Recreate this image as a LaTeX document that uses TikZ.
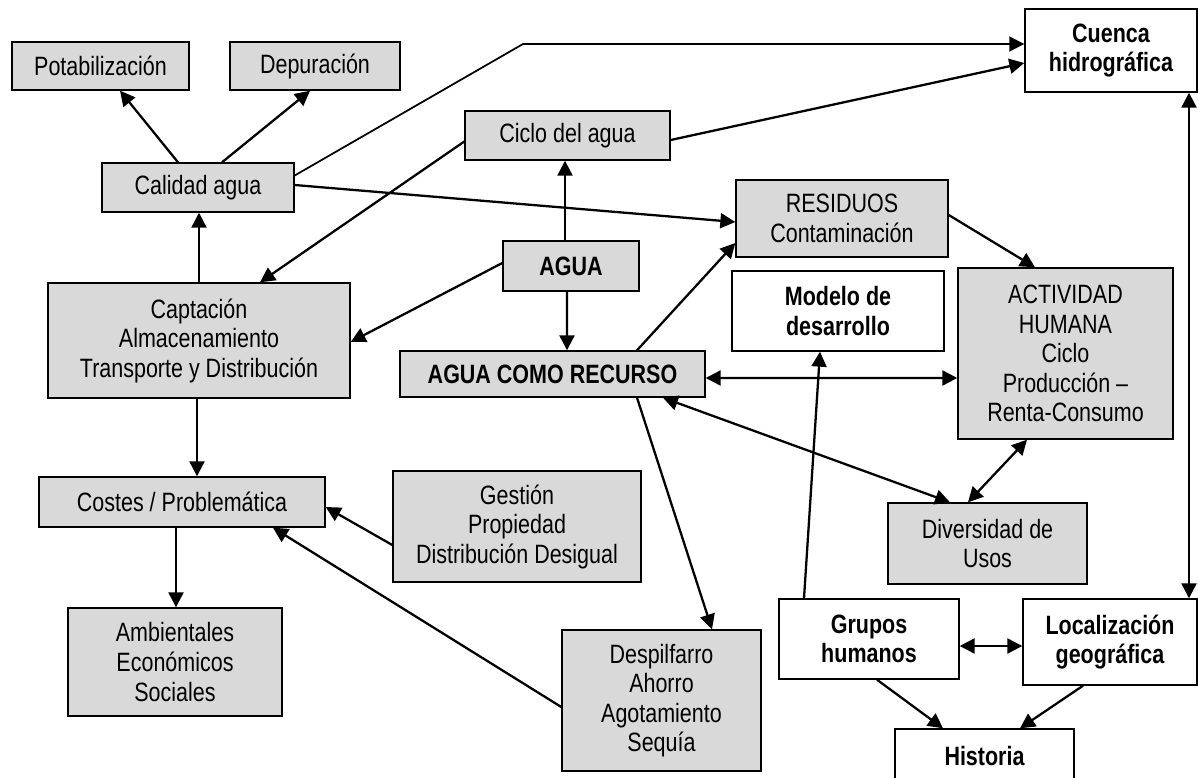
\documentclass[tikz,border=0pt]{standalone}
\usepackage{fontspec}
\setmainfont{Liberation Sans}[FakeStretch=0.81]
\usetikzlibrary{arrows.meta,calc}
\definecolor{boxgray}{RGB}{217,217,217}

\begin{document}
\begin{tikzpicture}[x=0.02cm,y=-0.02cm,
    box/.style={draw,fill=boxgray,line width=0.8pt,align=center,inner sep=0pt,
      font=\fontsize{15.1}{16.8}\selectfont},
    wbox/.style={box,fill=white},
    bf/.style={font=\fontsize{15.1}{16.8}\selectfont\bfseries},
    sz/.style 2 args={minimum width=#1*0.02cm,minimum height=#2*0.02cm},
    link/.style={line width=1.3pt,-{Triangle[length=8.5pt,width=8.5pt]}},
    dlink/.style={line width=1.3pt,{Triangle[length=8.5pt,width=8.5pt]}-{Triangle[length=8.5pt,width=8.5pt]}}]
    \useasboundingbox (0,0) rectangle (1198,778);
    \clip (0,0) rectangle (1198,778);

    % left column
    \node[box,sz={177}{48}] (pot) at (100.5,66) {Potabilización};
    \node[box,sz={170}{48}] (dep) at (315,66) {Depuración};
    \node[box,sz={192}{49}] (cal) at (198,187.5) {Calidad agua};
    \node[box,sz={302}{115}] (cap) at (199,340.5) {Captación\\Almacenamiento\\Transporte y Distribución};
    \node[box,sz={286}{50}] (cos) at (182,502) {Costes / Problemática};
    \node[box,sz={214}{108}] (amb) at (175,662) {Ambientales\\Económicos\\Sociales};

    % middle
    \node[box,sz={205}{49}] (cic) at (567.5,135.5) {Ciclo del agua};
    \node[box,bf,sz={136}{50}] (agua) at (571,266) {AGUA};
    \node[box,bf,sz={305}{46}] (rec) at (552.5,374) {AGUA COMO RECURSO};
    \node[box,sz={248}{111}] (ges) at (517,526.5) {Gestión\\Propiedad\\Distribución Desigual};
    \node[box,sz={199}{141}] (des) at (661.5,700.5) {Despilfarro\\Ahorro\\Agotamiento\\Sequía};

    % right
    \node[wbox,bf,sz={172}{83}] (cue) at (1111,50.5) {Cuenca\\hidrográfica};
    \node[box,sz={212}{77}] (res) at (842,218.5) {RESIDUOS\\Contaminación};
    \node[wbox,bf,sz={212}{80}] (mod) at (838,311) {Modelo de\\desarrollo};
    \node[box,sz={215}{171}] (act) at (1065.5,353.5) {ACTIVIDAD\\HUMANA\\Ciclo\\Producción –\\Renta-Consumo};
    \node[box,sz={199}{81}] (div) at (987.5,543.5) {Diversidad de\\Usos};
    \node[wbox,bf,sz={180}{80}] (gru) at (869,639) {Grupos\\humanos};
    \node[wbox,bf,sz={174}{86}] (loc) at (1110,642) {Localización\\geográfica};
    \node[wbox,bf,sz={179}{54}] (his) at (984.5,756) {Historia};
    \coordinate (kink) at (523,44);

    \draw[link] ($(cal.north)+(-20,0)$) -- ($(pot.south)+(19.5,0)$);
    \draw[link] ($(cal.north)+(24,0)$) -- ($(dep.south)+(-5,0)$);
    \draw[link] (cap.north) -- (cap.north |- cal.south);
    \draw[link] ($(cic.west)+(0,6)$) -- ($(cap.north)+(61,0)$);
    \draw[link,line width=1pt] ($(cal.east)+(0,-12)$) -- (kink) -- (kink -| cue.west);
    \draw[link] ($(cic.east)+(0,4.5)$) -- ($(cue.west)+(0,12.5)$);
    \draw[link] ($(cal.east)+(0,-2.5)$) -- ($(res.west)+(0,3.5)$);
    \draw[link] ($(agua.north)+(-6,0)$) -- ($(cic.south)+(-2.5,0)$);
    \draw[link] ($(agua.west)+(0,-3)$) -- ($(cap.east)+(0,1.5)$);
    \draw[link] ($(agua.south)+(-4,0)$) -- ($(rec.north)+(14.5,0)$);
    \draw[link] ($(rec.north)+(84.5,0)$) -- ($(res.west)+(0,24.5)$);
    \draw[dlink] ($(rec.east)+(0,4)$) -- ($(act.west)+(0,24.5)$);
    \draw[dlink] ($(div.north)+(-37.5,0)$) -- ($(rec.south)+(110.5,0)$);
    \draw[dlink] ($(act.south)+(-38.5,0)$) -- ($(div.north)+(-19.5,0)$);
    \draw[link] ($(rec.south)+(84.5,0)$) -- ($(des.north)+(50.5,0)$);
    \draw[link] ($(des.west)+(0,6.5)$) -- ($(cos.south)+(91,0)$);
    \draw[link] ($(ges.west)+(0,18.5)$) -- ($(cos.east)+(0,5)$);
    \draw[link] ($(cap.south)+(-2,0)$) -- ($(cos.north)+(15,0)$);
    \draw[link] ($(cos.south)+(-6,0)$) -- ($(amb.north)+(1,0)$);
    \draw[link] ($(res.east)+(0,-3.5)$) -- ($(act.north)+(-30.5,0)$);
    \draw[link] ($(gru.north)+(-65,0)$) -- ($(mod.south)+(-18,0)$);
    \draw[dlink] ($(gru.east)+(0,7)$) -- ($(loc.west)+(0,4)$);
    \draw[dlink] ($(cue.south)+(78,0)$) -- ($(loc.north)+(79,0)$);
    \draw[link] ($(gru.south)+(8,0)$) -- ($(his.north)+(-41.5,0)$);
    \draw[link] ($(loc.south)+(-27,0)$) -- ($(his.north)+(35.5,0)$);
\end{tikzpicture}
\end{document}
